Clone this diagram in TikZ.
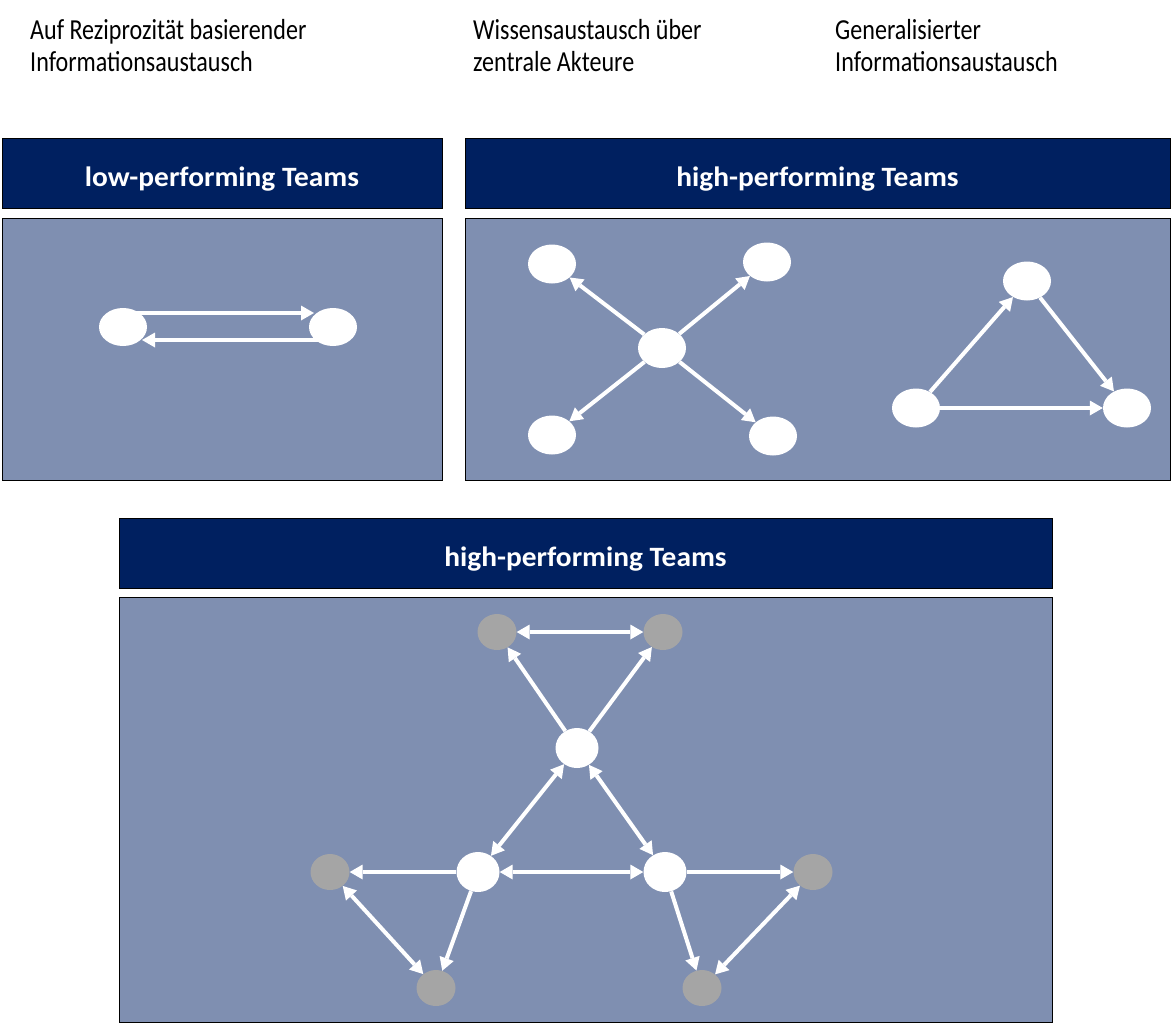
\documentclass[tikz,border=0pt]{standalone}
\usepackage{fontspec}
\setmainfont{Carlito}
\newfontfamily\topfont{Carlito}[FakeStretch=0.83]
\newfontfamily\hdrfont{Carlito}[FakeStretch=1.05]
\usetikzlibrary{shapes.geometric,arrows.meta,calc}
\definecolor{navy}{RGB}{0,32,96}
\definecolor{panel}{RGB}{127,143,177}
\definecolor{gnode}{RGB}{165,165,165}
\begin{document}
\begin{tikzpicture}[x=1pt,y=-1pt,
  hdr/.style={draw=black,line width=1pt,fill=navy,text=white,inner sep=0pt,
    minimum height=70pt,text height=26.6pt,text depth=0pt,
    font=\hdrfont\bfseries\fontsize{28}{32}\selectfont},
  pnl/.style={draw=black,line width=0.8pt,fill=panel},
  toptext/.style={anchor=base west,inner sep=0pt,font=\topfont\fontsize{29}{32.4}\selectfont},
  wn/.style={ellipse,fill=white,inner sep=0pt,minimum width=48pt,minimum height=39pt},
  wsn/.style={ellipse,fill=white,inner sep=0pt,minimum width=43pt,minimum height=40pt},
  gn/.style={ellipse,fill=gnode,inner sep=0pt,minimum width=39pt,minimum height=36pt},
  tip/.tip={Triangle[length=13pt,width=15pt,line width=0pt]},
  arr/.style={draw=white,line width=4pt,-tip},
  darr/.style={draw=white,line width=4pt,tip-tip}]
\useasboundingbox (0,0) rectangle (1172,1025);

% top texts
\node[toptext] (t1txt) at (30,39.3) {\begin{tabular}[t]{@{}l@{}}Auf Reziprozität basierender\\Informationsaustausch\end{tabular}};
\node[toptext] (t2txt) at (473,39.3) {\begin{tabular}[t]{@{}l@{}}Wissensaustausch über\\zentrale Akteure\end{tabular}};
\node[toptext] (t3txt) at (835,39.3) {\begin{tabular}[t]{@{}l@{}}Generalisierter\\Informationsaustausch\end{tabular}};

% headers
\node[hdr,minimum width=440pt] (h1) at (222,173) {low-performing Teams};
\node[hdr,minimum width=705pt] (h2) at (817.5,173) {high-performing Teams};
\node[hdr,minimum width=933pt] (h3) at (585.5,553) {high-performing Teams};

% panels
\draw[pnl] (2,218) rectangle (442,480);
\draw[pnl] (465,218) rectangle (1170,480);
\draw[pnl] (119,597) rectangle (1052,1022);

% left panel
\node[wn,minimum height=38pt] (l1) at (123,327) {};
\node[wn,minimum height=38pt] (l2) at (333,327) {};
\draw[arr] ($(l1.center)+(0,-14)$) -- ($(l2.center)+(-19,-14)$);
\draw[arr] ($(l2.center)+(0,13)$) -- ($(l1.center)+(19,13)$);

% right panel: star
\node[wn,minimum height=40pt] (c) at (662,348) {};
\node[wn] (n1) at (552,264) {};
\node[wn] (n2) at (767,262) {};
\node[wn] (n3) at (552,435) {};
\node[wn] (n4) at (773,436) {};
\draw[arr] (c) -- (n1);
\draw[arr] (c) -- (n2);
\draw[arr] (c) -- (n3);
\draw[arr] (c) -- (n4);

% right panel: triangle
\node[wn] (a1) at (1027,281) {};
\node[wn] (a2) at (916,408) {};
\node[wn] (a3) at (1127,408) {};
\draw[arr] (a2) -- (a1);
\draw[arr] (a1) -- (a3);
\draw[arr] (a2) -- (a3);

% bottom panel
\node[wsn] (w1) at (577,748) {};
\node[wsn] (w2) at (478,872) {};
\node[wsn] (w3) at (665,872) {};
\node[gn] (g1) at (497,632) {};
\node[gn] (g2) at (663,632) {};
\node[gn] (g3) at (330,872) {};
\node[gn] (g4) at (436,988) {};
\node[gn] (g5) at (813,872) {};
\node[gn] (g6) at (702,988) {};
\draw[darr] (g1) -- (g2);
\draw[arr] (w1) -- (g1);
\draw[arr] (w1) -- (g2);
\draw[darr] (w1) -- (w2);
\draw[darr] (w1) -- (w3);
\draw[darr] (w2) -- (w3);
\draw[arr] (w2) -- (g3);
\draw[arr] (w2) -- (g4);
\draw[darr] (g3) -- (g4);
\draw[arr] (w3) -- (g5);
\draw[arr] (w3) -- (g6);
\draw[darr] (g5) -- (g6);
\end{tikzpicture}
\end{document}
